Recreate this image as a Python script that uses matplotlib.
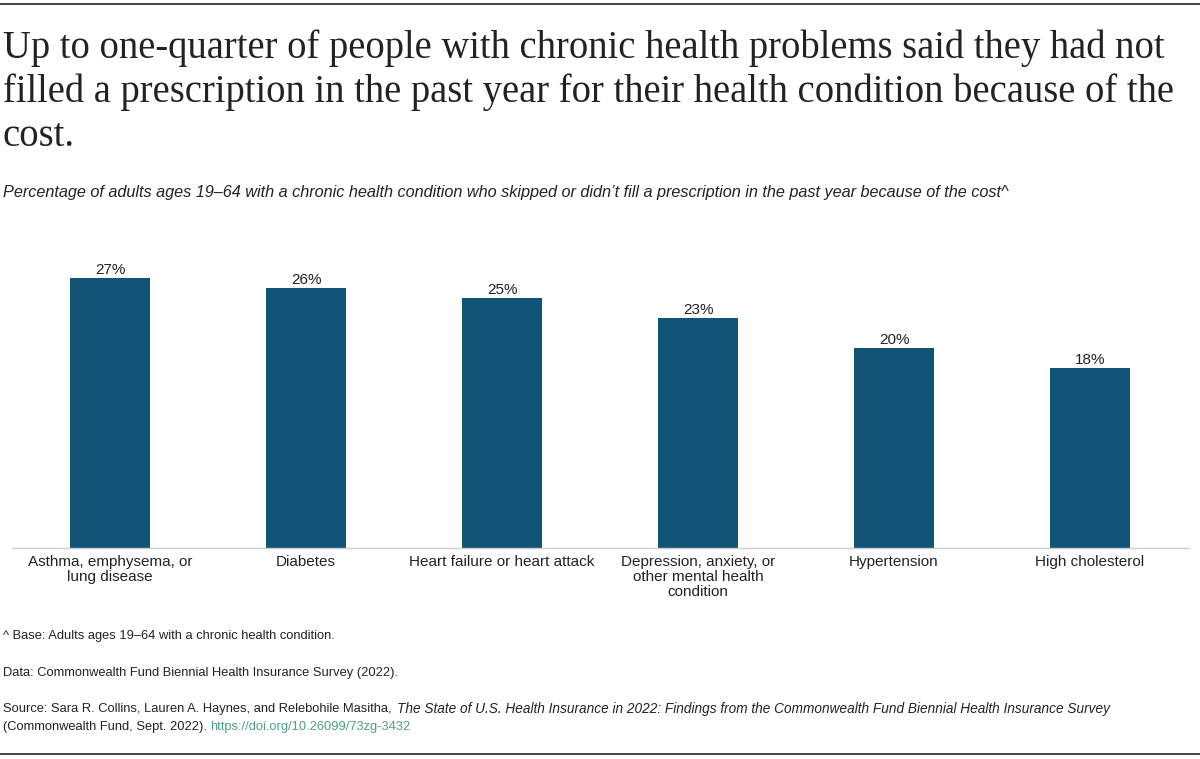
import matplotlib.pyplot as plt
import numpy as np

categories = ['Asthma, emphysema, or\nlung disease', 'Diabetes',
              'Heart failure or heart attack',
              'Depression, anxiety, or\nother mental health\ncondition',
              'Hypertension', 'High cholesterol']
values = [27, 26, 25, 23, 20, 18]

bar_color = '#115478'
text_color = '#222222'
sans = 'Liberation Sans'
serif = 'Liberation Serif'

fig = plt.figure(figsize=(12, 7.59), dpi=100)

# frame lines top and bottom
fig.add_artist(plt.Line2D([0, 1], [1 - 3.5/759, 1 - 3.5/759], color='#222222', lw=1.2))
fig.add_artist(plt.Line2D([0, 1], [1 - 753.5/759, 1 - 753.5/759], color='#222222', lw=1.2))

fig.text(3/1200, 1 - 29/759,
         'Up to one-quarter of people with chronic health problems said they had not\n'
         'filled a prescription in the past year for their health condition because of the\n'
         'cost.', family=serif, fontsize=27.8, color=text_color, va='top', ha='left',
         linespacing=1.24)

fig.text(3/1200, 1 - 193/759,
         'Percentage of adults ages 19\u201364 with a chronic health condition who skipped or '
         'didn\u2019t fill a prescription in the past year because of the cost^',
         family=sans, style='italic', fontsize=11.7, color=text_color, va='center', ha='left')

ax = fig.add_axes([12/1200, 1 - 548/759, 1176/1200, 300/759])
x = np.arange(len(categories))
bars = ax.bar(x, values, width=0.41, color=bar_color)
for xi, v in zip(x, values):
    ax.text(xi, v + 0.15, f'{v}%', ha='center', va='bottom', family=sans,
            fontsize=11, color=text_color)
ax.set_xlim(-0.5, len(categories) - 0.5)
ax.set_ylim(0, 30)
ax.set_yticks([])
ax.set_xticks(x)
ax.set_xticklabels(categories, family=sans, fontsize=11, color=text_color,
                   linespacing=1.1)
ax.tick_params(axis='x', length=0, pad=5)
for s in ['top', 'right', 'left']:
    ax.spines[s].set_visible(False)
ax.spines['bottom'].set_color('#cccccc')
ax.spines['bottom'].set_linewidth(1)

foot = dict(family=sans, fontsize=9.3, color=text_color, va='center', ha='left')
fig.text(3/1200, 1 - 636/759, '^ Base: Adults ages 19\u201364 with a chronic health condition.', **foot)
fig.text(3/1200, 1 - 673/759, 'Data: Commonwealth Fund Biennial Health Insurance Survey (2022).', **foot)

# source line with italic title part
fig.canvas.draw()
renderer = fig.canvas.get_renderer()
pieces = [
    ('Source: Sara R. Collins, Lauren A. Haynes, and Relebohile Masitha, ', 'normal', 9.3),
    ('The State of U.S. Health Insurance in 2022: Findings from the Commonwealth Fund Biennial Health Insurance Survey', 'italic', 9.8),
]
xpos = 3/1200
for txt, st, fs in pieces:
    t = fig.text(xpos, 1 - 709/759, txt, style=st, **{**foot, 'fontsize': fs})
    bb = t.get_window_extent(renderer)
    xpos = bb.x1 / fig.bbox.width + 2/1200
t = fig.text(3/1200, 1 - 727/759, '(Commonwealth Fund, Sept. 2022). ', **foot)
bb = t.get_window_extent(renderer)
fig.text(bb.x1 / fig.bbox.width, 1 - 727/759, 'https://doi.org/10.26099/73zg-3432',
         **{**foot, 'color': '#4f9f88'})

fig.savefig('out.png', dpi=100)
